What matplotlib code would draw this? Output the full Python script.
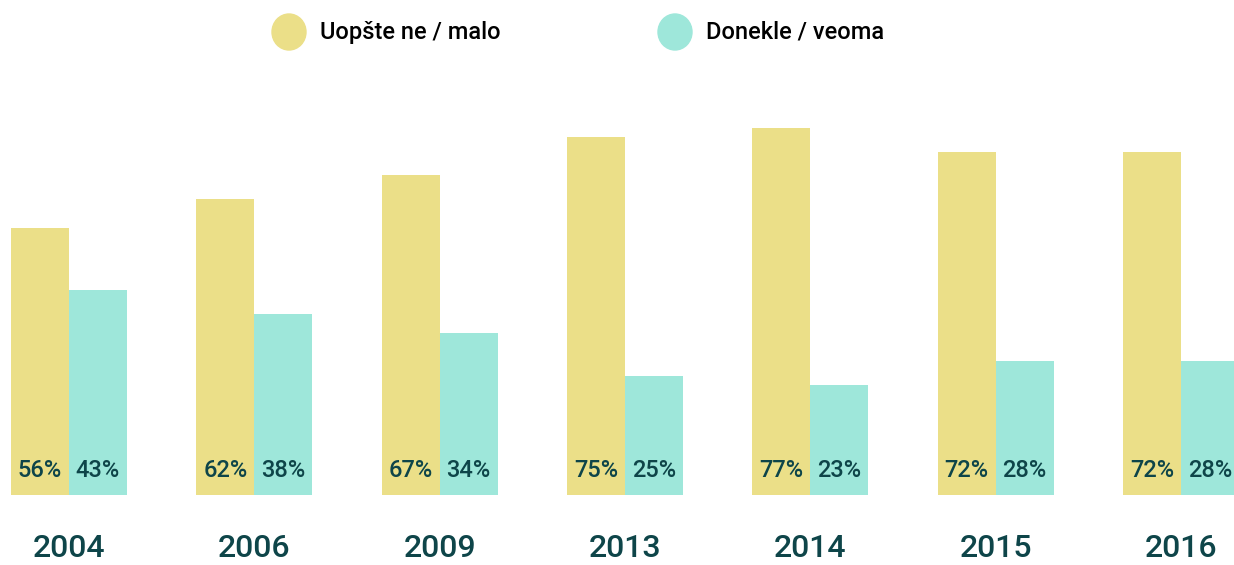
import numpy as np
import matplotlib.pyplot as plt
from matplotlib.patches import Ellipse

# data
years = ["2004", "2006", "2009", "2013", "2014", "2015", "2016"]
low = [56, 62, 67, 75, 77, 72, 72]
high = [43, 38, 34, 25, 23, 28, 28]
legend_labels = ["Uopšte ne / malo", "Donekle / veoma"]

YELLOW = "#ebdf88"
TEAL = "#9ee7da"
DARK = "#0e4549"

plt.rcParams['font.family'] = ['Roboto', 'DejaVu Sans']

fig = plt.figure(figsize=(12.34, 5.65), dpi=100)
ax = fig.add_axes([0, 70 / 565, 1, 477 / 565])

x = np.arange(len(years))
w = 58 / 185.33
ax.bar(x - w / 2, low, width=w, color=YELLOW)
ax.bar(x + w / 2, high, width=w, color=TEAL)

for i in range(len(years)):
    ax.text(x[i] - w / 2, 5.2, f"{low[i]}%", ha="center", va="center",
            fontsize=17, color=DARK, fontweight=500)
    ax.text(x[i] + w / 2, 5.2, f"{high[i]}%", ha="center", va="center",
            fontsize=17, color=DARK, fontweight=500)
    ax.text(x[i], -11.3, years[i], ha="center", va="center",
            fontsize=23, color=DARK, fontweight=500, clip_on=False)

ax.set_xlim(-69 / 185.33, (1234 - 69) / 185.33)
ax.set_ylim(0, 100)
ax.axis("off")

# legend drawn by hand
for cx, lab, col in [(289, legend_labels[0], YELLOW), (675, legend_labels[1], TEAL)]:
    fig.patches.append(Ellipse((cx / 1234, 1 - 32 / 565), 34 / 1234, 36 / 565,
                               transform=fig.transFigure, color=col))
    fig.text((cx + 31) / 1234, 1 - 32 / 565, lab, ha="left", va="center",
             fontsize=17, color="black", fontweight=500)

fig.savefig("out.png", dpi=100)
